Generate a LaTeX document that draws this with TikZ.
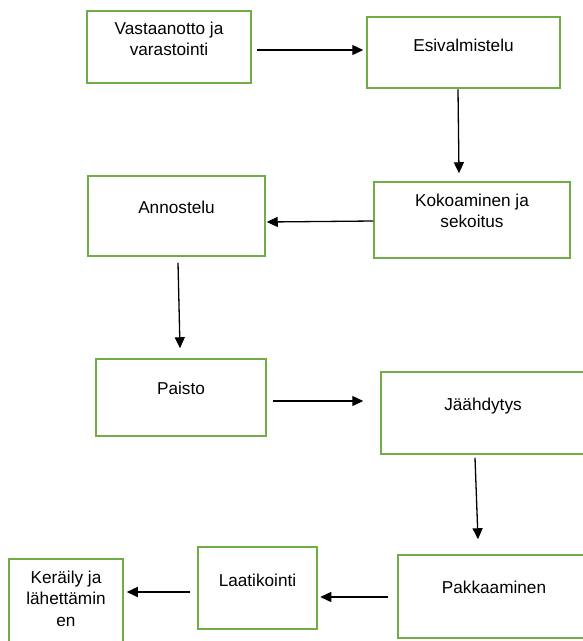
\documentclass[tikz,border=0pt]{standalone}
\usepackage{fontspec}
\setmainfont{Liberation Sans}
\usetikzlibrary{arrows.meta}
\definecolor{boxgreen}{HTML}{70AD47}

\begin{document}
\begin{tikzpicture}[x=1pt, y=-1pt, >={Triangle[length=11pt,width=10pt]},
  main/.style = {draw=boxgreen, line width=1.5pt, rectangle, inner sep=0pt},
  txt/.style = {anchor=north, align=center, inner sep=0pt,
    font=\fontsize{17.2}{21.5}\selectfont},
  flow/.style = {->, line width=1.3pt}]

\useasboundingbox (0,0) rectangle (582,641);

\node[main, minimum width=164pt, minimum height=72pt,
  label={[txt, yshift=-11.5pt]north:Vastaanotto ja\\varastointi}] (vastaanotto) at (169,47) {};
\node[main, minimum width=193pt, minimum height=71pt,
  label={[txt, yshift=-23pt]north:Esivalmistelu}] (esivalmistelu) at (463.5,52.5) {};
\node[main, minimum width=196pt, minimum height=76pt,
  label={[txt, yshift=-12.5pt]north:Kokoaminen ja\\sekoitus}] (kokoaminen) at (472,220) {};
\node[main, minimum width=177pt, minimum height=80pt,
  label={[txt, yshift=-26pt]north:Annostelu}] (annostelu) at (176.5,216) {};
\node[main, minimum width=170pt, minimum height=77pt,
  label={[txt, yshift=-24pt]north:Paisto}] (paisto) at (181,397.5) {};
\node[main, minimum width=204pt, minimum height=82pt,
  label={[txt, yshift=-27pt]north:Jäähdytys}] (jaahdytys) at (483,413) {};
\node[main, minimum width=192pt, minimum height=83pt,
  label={[txt, yshift=-26.5pt]north:Pakkaaminen}] (pakkaaminen) at (494,596.5) {};
\node[main, minimum width=119pt, minimum height=82pt,
  label={[txt, yshift=-28pt]north:Laatikointi}] (laatikointi) at (257.5,588) {};
\node[main, minimum width=114pt, minimum height=87pt,
  label={[txt, yshift=-12.5pt]north:Keräily ja\\lähettämin\\en}] (keraily) at (66,602.5) {};

\draw[flow] ([xshift=5pt,yshift=-3pt]vastaanotto.east) -- ([xshift=-3pt,yshift=2.5pt]esivalmistelu.west);
\draw[flow] ([xshift=-5.5pt,yshift=-0.5pt]esivalmistelu.south) -- ([xshift=-13pt,yshift=8pt]kokoaminen.north);
\draw[flow] ([yshift=-1pt]kokoaminen.west) -- ([xshift=1pt,yshift=-6pt]annostelu.east);
\draw[flow] ([xshift=1.5pt,yshift=-6pt]annostelu.south) -- ([xshift=-1pt,yshift=10pt]paisto.north);
\draw[flow] ([xshift=6pt,yshift=-3.5pt]paisto.east) -- ([xshift=-17pt,yshift=12pt]jaahdytys.west);
\draw[flow] ([xshift=-8pt,yshift=-3pt]jaahdytys.south) -- ([xshift=-16pt,yshift=15pt]pakkaaminen.north);
\draw[flow] ([xshift=-9pt,yshift=-0.5pt]pakkaaminen.west) -- ([xshift=2.5pt,yshift=-9pt]laatikointi.east);
\draw[flow] ([xshift=-7pt,yshift=-4pt]laatikointi.west) -- ([xshift=3pt,yshift=10.5pt]keraily.east);

\end{tikzpicture}
\end{document}
